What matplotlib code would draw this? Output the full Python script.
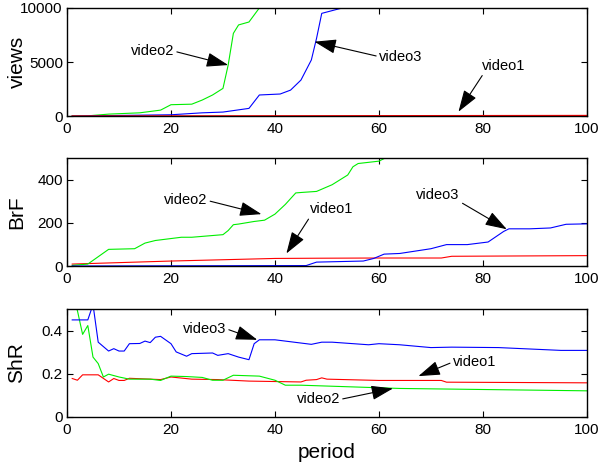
import matplotlib
matplotlib.use('Agg')
import matplotlib.pyplot as plt

plt.rcParams['font.family'] = ['Liberation Sans', 'DejaVu Sans']

# period axis
period_ticks = [0, 20, 40, 60, 80, 100]

# views
v1_views_x = [1, 20, 40, 60, 80, 100]
v1_views_y = [0, 10, 20, 30, 40, 50]
v2_views_x = [1, 4, 8, 14, 18, 20, 24, 26, 28, 30, 31, 32, 33, 35, 36, 37, 38, 40]
v2_views_y = [0, 20, 180, 300, 550, 1050, 1100, 1480, 1950, 2560, 4720, 7650, 8430, 8700, 9350, 10000, 11500, 14000]
v3_views_x = [1, 20, 26, 30, 35, 37, 41, 43, 45, 47, 48, 49, 52, 53, 55]
v3_views_y = [0, 120, 300, 370, 710, 1950, 2040, 2400, 3330, 5190, 7190, 9500, 9880, 10000, 11000]

# BrF
v1_brf_x = [1, 20, 40, 48, 60, 72, 74, 100]
v1_brf_y = [9, 23, 35, 36, 37, 37, 45, 48]
v2_brf_x = [1, 4, 8, 13, 15, 17, 20, 22, 24, 27, 30, 31, 32, 33, 36, 38, 40, 42, 44,
            45, 48, 51, 54, 55, 56, 60, 61, 63]
v2_brf_y = [3, 9, 77, 80, 106, 118, 127, 133, 133, 139, 145, 164, 191, 194, 206, 212, 240, 285, 338,
            340, 345, 376, 421, 459, 474, 485, 497, 520]
v3_brf_x = [1, 46, 47, 48, 57, 59, 60, 61, 64, 70, 73, 77, 81, 84, 85, 89, 93, 96, 100]
v3_brf_y = [0, 2, 10, 18, 23, 35, 45, 55, 58, 80, 99, 99, 111, 160, 172, 172, 176, 193, 195]

# ShR
v1_shr_x = [1, 2, 3, 6, 8, 9, 10, 11, 12, 18, 20, 24, 29, 35, 45, 46, 48, 49, 50, 60, 72, 73, 100]
v1_shr_y = [0.178, 0.170, 0.195, 0.195, 0.162, 0.178, 0.169, 0.169, 0.179, 0.173, 0.185, 0.175,
            0.173, 0.166, 0.162, 0.170, 0.173, 0.181, 0.175, 0.169, 0.169, 0.161, 0.158]
v2_shr_x = [1, 2, 3, 4, 5, 6, 7, 8, 10, 12, 16, 18, 20, 23, 26, 28, 30, 32, 37, 40, 42, 45, 64, 100]
v2_shr_y = [0.55, 0.492, 0.382, 0.423, 0.277, 0.247, 0.185, 0.198, 0.185, 0.175, 0.175, 0.169,
            0.189, 0.187, 0.183, 0.170, 0.170, 0.193, 0.189, 0.170, 0.147, 0.147, 0.132, 0.121]
v3_shr_x = [1, 4, 5, 6, 8, 9, 10, 11, 12, 14, 15, 16, 17, 18, 20, 21, 23, 24, 28, 29, 31, 33, 35,
            36, 37, 40, 45, 47, 49, 51, 58, 60, 64, 70, 74, 83, 95, 100]
v3_shr_y = [0.449, 0.449, 0.52, 0.346, 0.305, 0.316, 0.305, 0.305, 0.339, 0.34, 0.351, 0.344,
            0.369, 0.373, 0.339, 0.301, 0.281, 0.293, 0.296, 0.285, 0.293, 0.277, 0.265,
            0.339, 0.357, 0.357, 0.342, 0.336, 0.346, 0.346, 0.334, 0.339, 0.334, 0.321,
            0.323, 0.321, 0.308, 0.308]

RED, GREEN, BLUE = '#ff0000', '#00ee00', '#0000ff'
FS_TICK = 11
FS_NOTE = 10.5
LW = 0.8

fig = plt.figure(figsize=(6.01, 4.68), dpi=100)
left, width, height = 0.1115, 0.865, 0.231
ax1 = fig.add_axes([left, 0.752, width, height])
ax2 = fig.add_axes([left, 0.4316, width, height])
ax3 = fig.add_axes([left, 0.109, width, height])


def style(ax, ylim, yticks, ylabel):
    ax.set_xlim(0, 100)
    ax.set_ylim(*ylim)
    ax.set_xticks(period_ticks)
    ax.set_yticks(yticks)
    ax.tick_params(direction='in', length=4.5, width=0.8, top=True, right=True,
                   labelsize=FS_TICK, pad=4)
    ax.tick_params(axis='y', pad=3)
    for s in ax.spines.values():
        s.set_linewidth(1.0)
    ax.set_ylabel(ylabel, fontsize=15)
    ax.yaxis.set_label_coords(-0.078, 0.5)


def note(ax, text, tip, pos, ha, relpos):
    ax.annotate(text, xy=tip, xytext=pos, ha=ha, va='center', fontsize=FS_NOTE,
                arrowprops=dict(arrowstyle='-|>,head_length=0.9,head_width=0.3',
                                color='k', lw=0.8, mutation_scale=15,
                                shrinkA=0, shrinkB=0, relpos=relpos))


# views panel
ax1.plot(v2_views_x, v2_views_y, color=GREEN, lw=LW)
ax1.plot(v3_views_x, v3_views_y, color=BLUE, lw=LW)
ax1.plot(v1_views_x, v1_views_y, color=RED, lw=1.0)
style(ax1, (0, 10000), [0, 5000, 10000], 'views')
note(ax1, 'video2', (31, 4720), (20.6, 6000), 'right', (1, 0.5))
note(ax1, 'video3', (47.6, 6880), (60, 5500), 'left', (0, 0.5))
note(ax1, 'video1', (75.3, 400), (79.8, 4650), 'left', (0.05, 0))

# BrF panel
ax2.plot(v1_brf_x, v1_brf_y, color=RED, lw=LW)
ax2.plot(v2_brf_x, v2_brf_y, color=GREEN, lw=LW)
ax2.plot(v3_brf_x, v3_brf_y, color=BLUE, lw=LW)
style(ax2, (0, 500), [0, 200, 400], 'BrF')
note(ax2, 'video2', (37.4, 240), (27, 303), 'right', (1, 0.5))
note(ax2, 'video1', (42.2, 58), (46.8, 262), 'left', (0, 0))
note(ax2, 'video3', (84.6, 170), (67.2, 330), 'left', (1, 0))

# ShR panel
ax3.plot(v1_shr_x, v1_shr_y, color=RED, lw=LW)
ax3.plot(v2_shr_x, v2_shr_y, color=GREEN, lw=LW)
ax3.plot(v3_shr_x, v3_shr_y, color=BLUE, lw=LW)
style(ax3, (0, 0.5), [0, 0.2, 0.4], 'ShR')
ax3.set_yticklabels(['0', '0.2', '0.4'])
note(ax3, 'video3', (36.6, 0.357), (30.6, 0.408), 'right', (1, 0.5))
note(ax3, 'video1', (67.6, 0.189), (74.2, 0.254), 'left', (0, 0.5))
note(ax3, 'video2', (62.7, 0.132), (52.5, 0.081), 'right', (1, 0.5))
ax3.set_xlabel('period', fontsize=15, labelpad=5)

fig.savefig('out.png', dpi=100)
